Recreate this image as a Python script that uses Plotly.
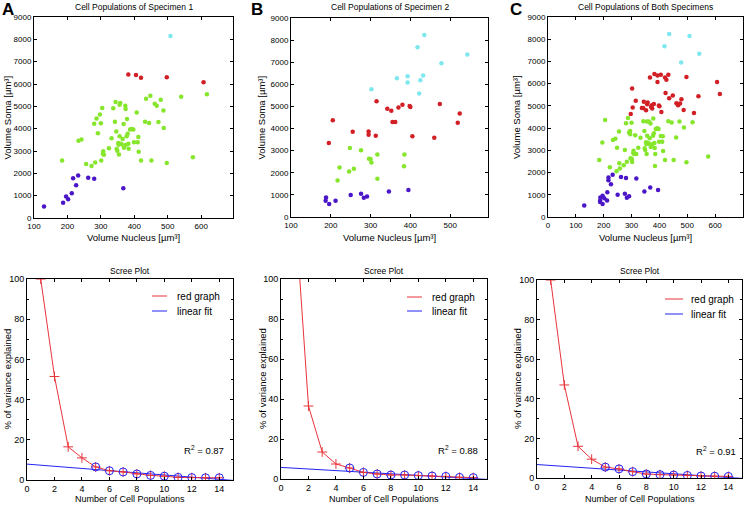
import plotly.graph_objects as go

W, H = 745, 505

# ---------------- DATA ----------------
# Panel A (Specimen 1) : (nucleus, soma) volumes per cluster
A_blue_x = [130, 187, 196, 202, 213, 217, 226, 232, 262, 280, 367]
A_blue_y = [520, 680, 960, 840, 1110, 1780, 1470, 1900, 1800, 1760, 1330]
A_red_x = [382, 405, 420, 497, 607]
A_red_y = [6430, 6400, 6280, 6300, 6080]
A_cyan_x = [508]
A_cyan_y = [8150]
A_green_x = [184, 233, 242, 256, 272, 283, 280, 287, 291, 297, 300, 304, 301, 307, 306, 309,
             324, 332, 337, 342, 344, 346, 347, 349, 352, 353, 354, 356, 358, 356, 359, 362,
             365, 368, 369, 373, 374, 374, 377, 378, 380, 382, 383, 387, 392, 397, 399, 407,
             410, 412, 413, 420, 432, 435, 444, 448, 451, 461, 467, 472, 479, 487, 488, 497,
             540, 575, 617]
A_green_y = [2570, 3460, 3520, 2420, 2330, 2490, 4220, 4450, 3800, 4630, 4240, 4930, 2580, 2985, 2880, 2835,
             3120, 3570, 4910, 4310, 5190, 3870, 3090, 3010, 3360, 3280, 2840, 5070, 5150, 3660, 3330, 3300,
             3540, 4210, 3150, 5030, 3270, 4880, 3660, 4430, 3770, 3330, 3100, 3960, 3990, 3960, 3390, 4720,
             3390, 3630, 2970, 2570, 4310, 5340, 4250, 5470, 2570, 5120, 5030, 4300, 5300, 4810, 4030, 2460,
             5430, 2720, 5540]

# Panel B (Specimen 2)
B_cyan_x = [435, 418, 543, 478, 366, 393, 432, 425, 393, 422, 302]
B_cyan_y = [8230, 7680, 7350, 6950, 6280, 6370, 6400, 6180, 6080, 5580, 5780]
B_red_x = [315, 342, 352, 370, 380, 398, 400, 474, 524, 519, 355, 362, 205, 255, 295, 295, 313, 405, 460, 195]
B_red_y = [5230, 4900, 4800, 4950, 5080, 5020, 4980, 5110, 4680, 4260, 4300, 4300, 4370, 3850, 3870, 3720,
           3680, 3650, 3580, 3350]
B_green_x = [248, 276, 296, 300, 302, 317, 385, 384, 222, 258, 246, 217, 317]
B_green_y = [3120, 3020, 2640, 2620, 2470, 2830, 2830, 2300, 2240, 2180, 2060, 1650, 1730]
B_blue_x = [188, 187, 196, 212, 250, 276, 283, 291, 346, 395]
B_blue_y = [880, 730, 590, 740, 1000, 1050, 870, 930, 1150, 1220]

# Panel C (both specimens, re-clustered)
C_blue_x = [130, 187, 196, 202, 213, 217, 226, 232, 262, 280, 367,
            188, 187, 196, 212, 250, 276, 283, 291, 346, 395, 217, 317]
C_blue_y = [520, 680, 960, 840, 1110, 1780, 1470, 1900, 1800, 1760, 1330,
            880, 730, 590, 740, 1000, 1050, 870, 930, 1150, 1220, 1650, 1730]
C_cyan_x = [508, 435, 418, 543, 478]
C_cyan_y = [8150, 8230, 7680, 7350, 6950]
C_red_x = [382, 405, 420, 497, 607,
           304, 297, 337, 344, 356, 358, 373, 374, 407, 435, 448, 461, 467, 479, 487, 540, 617,
           366, 393, 432, 425, 393, 422, 302,
           315, 342, 352, 370, 380, 398, 400, 474, 524]
C_red_y = [6430, 6400, 6280, 6300, 6080,
           4930, 4630, 4910, 5190, 5070, 5150, 5030, 4880, 4720, 5340, 5470, 5120, 5030, 5300, 4810, 5430, 5540,
           6280, 6370, 6400, 6180, 6080, 5580, 5780,
           5230, 4900, 4800, 4950, 5080, 5020, 4980, 5110, 4680]
C_green_x = [184, 233, 242, 256, 272, 283, 280, 287, 291, 300, 301, 307, 306, 309, 324, 332, 342, 346,
             347, 349, 352, 353, 354, 356, 359, 362, 365, 368, 369, 374, 377, 378, 380, 382, 383, 387,
             392, 397, 399, 410, 412, 413, 420, 432, 444, 451, 472, 488, 497, 575,
             519, 355, 362, 205, 255, 295, 295, 313, 405, 460, 195,
             248, 276, 296, 300, 302, 317, 385, 384, 222, 258, 246]
C_green_y = [2570, 3460, 3520, 2420, 2330, 2490, 4220, 4450, 3800, 4240, 2580, 2985, 2880, 2835, 3120, 3570, 4310, 3870,
             3090, 3010, 3360, 3280, 2840, 3660, 3330, 3300, 3540, 4210, 3150, 3270, 3660, 4430, 3770, 3330, 3100, 3960,
             3990, 3960, 3390, 3390, 3630, 2970, 2570, 4310, 4250, 2570, 4300, 4030, 2460, 2720,
             4260, 4300, 4300, 4370, 3850, 3870, 3720, 3680, 3650, 3580, 3350,
             3120, 3020, 2640, 2620, 2470, 2830, 2830, 2300, 2240, 2180, 2060]

# Scree plots
n_pop = [1, 2, 3, 4, 5, 6, 7, 8, 9, 10, 11, 12, 13, 14]
fit_pop = [5, 6, 7, 8, 9, 10, 11, 12, 13, 14]
scree_A = [100, 51.5, 16.5, 11, 6.5, 4.6, 4.0, 3.0, 2.3, 1.9, 1.3, 1.2, 1.1, 1.1]
scree_B = [137, 36.5, 13.5, 7.5, 5.5, 3.3, 2.5, 2.0, 2.0, 1.7, 1.5, 1.3, 0.8, 0.7]
scree_C = [100, 47, 16, 9.5, 5.5, 4.6, 3.2, 2.0, 1.7, 1.5, 1.3, 1.0, 0.9, 0.8]
fit_x = [0, 15]
fit_A = [7.9, -0.2]
fit_B = [5.8, -0.2]
fit_C = [6.8, -0.2]
r2_labels = ["0.87", "0.88", "0.91"]

titles_top = ["Cell Populations of Specimen 1", "Cell Populations of Specimen 2",
              "Cell Populations of Both Specimens"]
letters = ["A", "B", "C"]

# ---------------- STYLE / LAYOUT ----------------
FONT = "Liberation Sans, Arial, Helvetica, sans-serif"
GREEN = "#86E62C"
RED = "#D21F26"
BLUE = "#4B16C8"
CYAN = "#7EE8EE"
LRED = "#E8343A"
LBLUE = "#2323F5"

def px_dom(x0, x1, y0, y1):
    return [x0 / W, x1 / W], [1 - y1 / H, 1 - y0 / H]

boxes_top = [(34, 233, 17, 218), (291, 488, 18, 217), (548, 743, 17, 217)]
boxes_bot = [(27, 233, 279, 480), (281, 487, 279, 479), (537, 742, 280, 478)]
xr_top = [[100, 695], [100, 595], [0, 700]]
xt_top = [[100, 200, 300, 400, 500, 600], [100, 200, 300, 400, 500], [0, 100, 200, 300, 400, 500, 600]]

fig = go.Figure()
layout = dict(width=W, height=H, margin=dict(l=0, r=0, t=0, b=0, pad=0), autosize=False,
              template="none",
              paper_bgcolor="white", plot_bgcolor="white", showlegend=False,
              font=dict(family=FONT, size=9, color="black"))
annotations = []
shapes = []

def axis_common(fs):
    return dict(showline=True, linecolor="black", linewidth=1, mirror="ticks", automargin=False,
                ticks="inside", ticklen=3, tickcolor="black", tickwidth=1,
                showgrid=False, zeroline=False, tickfont=dict(family=FONT, size=fs, color="black"))

def ann(x, y, text, size=9, angle=0, xanchor="center", bold=False):
    annotations.append(dict(x=x / W, y=1 - y / H, xref="paper", yref="paper", text=text,
                            showarrow=False, textangle=angle, xanchor=xanchor, yanchor="middle",
                            font=dict(family=FONT, size=size, color="black")))

scatter_sets = [
    [(A_green_x, A_green_y, GREEN), (A_blue_x, A_blue_y, BLUE), (A_red_x, A_red_y, RED), (A_cyan_x, A_cyan_y, CYAN)],
    [(B_green_x, B_green_y, GREEN), (B_blue_x, B_blue_y, BLUE), (B_red_x, B_red_y, RED), (B_cyan_x, B_cyan_y, CYAN)],
    [(C_green_x, C_green_y, GREEN), (C_blue_x, C_blue_y, BLUE), (C_red_x, C_red_y, RED), (C_cyan_x, C_cyan_y, CYAN)],
]
ytitle_x_top = [7, 261, 517]
letter_pos = [(8, 9), (257, 9), (516, 9)]

for i in range(3):
    k = i + 1
    xa = "xaxis" if k == 1 else f"xaxis{k}"
    ya = "yaxis" if k == 1 else f"yaxis{k}"
    xref = "x" if k == 1 else f"x{k}"
    yref = "y" if k == 1 else f"y{k}"
    x0, x1, y0, y1 = boxes_top[i]
    dx, dy = px_dom(x0, x1, y0, y1)
    layout[xa] = dict(axis_common(8), domain=dx, range=xr_top[i], tickvals=xt_top[i], anchor=yref)
    layout[ya] = dict(axis_common(8), domain=dy, range=[0, 9000], dtick=1000, anchor=xref)
    for xs, ys, col in scatter_sets[i]:
        fig.add_trace(go.Scatter(x=xs, y=ys, mode="markers", xaxis=xref, yaxis=yref,
                                 marker=dict(color=col, size=4.5, line=dict(width=0))))
    cx = (x0 + x1) / 2
    ann(cx, 7, titles_top[i], size=8.5)
    ann(cx, 237, "Volume Nucleus [µm³]", size=9.5)
    ann(ytitle_x_top[i], (y0 + y1) / 2, "Volume Soma [µm³]", size=9.5, angle=-90)
    lx, ly = letter_pos[i]
    annotations.append(dict(x=lx / W, y=1 - ly / H, xref="paper", yref="paper", text=f"<b>{letters[i]}</b>",
                            showarrow=False, xanchor="center", yanchor="middle",
                            font=dict(family=FONT, size=17, color="black")))

scree_sets = [(scree_A, fit_A), (scree_B, fit_B), (scree_C, fit_C)]
ytitle_x_bot = [7, 262, 517]
legend_pos = [(152, 167, 175, 296, 311), (407, 422, 430, 297, 311), (665, 683, 689, 299, 314)]
r2_pos = [(182, 450), (436, 450), (694, 451)]

for i in range(3):
    k = i + 4
    xa, ya = f"xaxis{k}", f"yaxis{k}"
    xref, yref = f"x{k}", f"y{k}"
    x0, x1, y0, y1 = boxes_bot[i]
    dx, dy = px_dom(x0, x1, y0, y1)
    layout[xa] = dict(axis_common(9), domain=dx, range=[0, 15], tickvals=[0, 2, 4, 6, 8, 10, 12, 14], anchor=yref)
    layout[ya] = dict(axis_common(9), domain=dy, range=[0, 100], dtick=20, anchor=xref,
                      minor=dict(dtick=10, ticks="inside", ticklen=2, tickcolor="black"))
    vals, fit = scree_sets[i]
    fig.add_trace(go.Scatter(x=fit_x, y=fit, mode="lines", xaxis=xref, yaxis=yref,
                             line=dict(color=LBLUE, width=1)))
    fig.add_trace(go.Scatter(x=n_pop, y=vals, mode="lines+markers", xaxis=xref, yaxis=yref,
                             line=dict(color=LRED, width=1),
                             marker=dict(symbol="cross-thin", size=7, color=LRED,
                                         line=dict(color=LRED, width=1))))
    fig.add_trace(go.Scatter(x=fit_pop, y=vals[4:], mode="markers", xaxis=xref, yaxis=yref,
                             marker=dict(symbol="circle-open", size=8, color=LBLUE,
                                         line=dict(color=LBLUE, width=1))))
    cx = (x0 + x1) / 2
    ann(cx, 271, "Scree Plot", size=8.5)
    ann(cx, 499, "Number of Cell Populations", size=9)
    ann(ytitle_x_bot[i], (y0 + y1) / 2, "% of variance explained", size=9.5, angle=-90)
    lx0, lx1, tx, ly1, ly2 = legend_pos[i]
    for (ly, col, txt) in [(ly1, LRED, "red graph"), (ly2, LBLUE, "linear fit")]:
        shapes.append(dict(type="line", xref="paper", yref="paper", x0=lx0 / W, x1=lx1 / W,
                           y0=1 - ly / H, y1=1 - ly / H, line=dict(color=col, width=1)))
        ann(tx, ly, txt, size=10, xanchor="left")
    rx, ry = r2_pos[i]
    ann(rx, ry, f"R<sup>2</sup> = {r2_labels[i]}", size=9.5, xanchor="left")

layout["annotations"] = annotations
layout["shapes"] = shapes
fig.update_layout(**layout)
fig.write_html("out.html", config={"displayModeBar": False},
               post_script="document.body.style.margin='0';document.body.style.overflow='hidden';")
